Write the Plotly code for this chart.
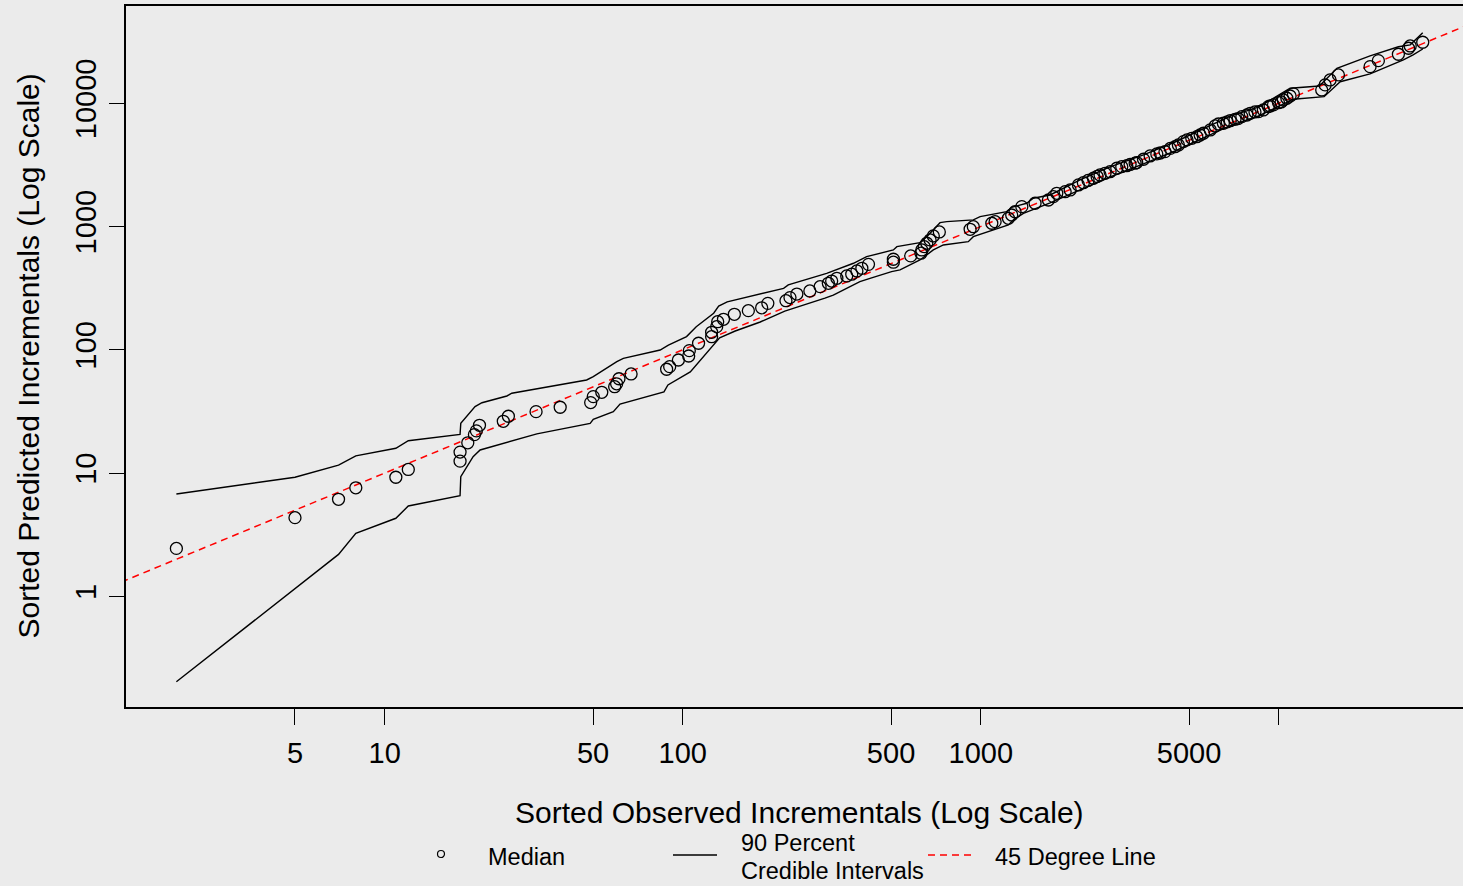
import plotly.graph_objects as go

# ---------------- data ----------------
obs_sorted = [2, 5, 7, 8, 10.9, 12, 17.9, 17.9, 19, 20, 20.3, 20.8, 25, 26, 32.2, 38.8,
              49.1, 50.1, 53.5, 59.1, 60, 61.1, 67.1, 88.3, 90.4, 96.7, 104.7, 105.2,
              113, 125, 125, 130, 131, 137, 149, 166, 184, 193, 222, 229, 241.5, 267,
              289, 308, 316, 329, 355, 369, 384, 399, 420, 509, 509, 582, 630, 634, 646,
              659, 676, 693, 726, 921, 944, 1089, 1117, 1238, 1270, 1303, 1373, 1521,
              1686, 1753,
              1799, 1919, 1995, 2127, 2209, 2291, 2388, 2456, 2513, 2612, 2716, 2860,
              2972, 3090, 3170, 3296, 3336, 3515, 3700, 3897, 4000, 4150, 4325, 4487,
              4603, 4786, 4920, 5105, 5309, 5445, 5585, 5888, 6112, 6270, 6516, 6714,
              6871, 7129, 7300, 7516, 7816, 8017, 8318, 8551, 8872, 9226, 9350, 9594,
              9977, 10180, 10350, 10640, 10910, 11190,
              13930, 14300, 14860, 15850, 20240, 21580, 25190, 27240, 27600, 30400]
pred_median = [2.45, 4.35, 6.13, 7.6, 9.25, 10.7, 12.5, 14.8, 17.6, 20.5, 22, 24.4, 26.3,
               28.9, 31.5, 34.2, 37.3, 41.7, 45.2, 50.2, 53, 58.2, 63.7, 69.5, 73, 82.6,
               89, 98.4, 113, 127.7, 138.6, 154, 169, 176.7, 194, 207.6, 219, 238, 250,
               265, 283, 300, 325, 346, 361, 380, 397, 410, 436, 458, 493, 513, 542, 577,
               607, 645, 686, 731, 778, 838, 903, 949, 996, 1062, 1094, 1165, 1239, 1318,
               1448, 1543, 1640, 1745,
               1858, 1915, 1977, 2172, 2265, 2361, 2460, 2545, 2617, 2700, 2782, 2965,
               3055, 3112, 3184, 3258, 3300, 3508, 3733, 3876, 3945, 4045, 4295, 4436,
               4581, 4875, 5035, 5190, 5346, 5520, 5702, 6067, 6535, 6776, 6871, 7047,
               7211, 7396, 7500, 7778, 8017, 8279, 8490, 8531, 8810, 9376, 9490, 9683,
               10090, 10230, 10620, 10960, 11430, 11890,
               12800, 14060, 15420, 16950, 19780, 22130, 24930, 27880, 29100, 31180]

upper_x = [2, 5, 7, 8, 10.9, 12, 17.9, 18, 20.1, 21.2, 25.7, 26.7, 47.6, 50.1, 60.1, 63.2,
           84, 89.5, 103, 111, 127, 132, 141, 218, 226, 304, 374, 414, 509, 523, 625, 659,
           730, 769, 944, 995, 1222, 1270, 1426, 1500, 1709, 2153, 2716, 3515, 4487, 5585,
           6871, 8551, 10910, 13680, 15660, 20240, 21580, 25190, 27600, 30400]
upper_y = [6.77, 9.25, 11.6, 13.8, 15.9, 18.3, 20.6, 25.3, 34.6, 37.2, 42.2, 44.4, 56.9,
           60.5, 80, 85.3, 99.6, 109, 128, 154, 198, 226, 245, 315, 336, 417, 503, 569,
           645, 686, 739, 827, 1074, 1094, 1130, 1202, 1318, 1431, 1543, 1694, 1800, 2384,
           3041, 3802, 4842, 6166, 7852, 9290, 13210, 13780, 19190, 24200, 25400, 28700,
           29700, 37300]

lower_x = [2, 5, 7, 8, 10.9, 12, 17.9, 18, 19.8, 20.9, 26, 32.4, 48.9, 50.1, 58.5, 61.6,
           86.5, 89.2, 106, 126, 133, 150, 182, 220, 267, 300, 320, 393, 425, 502, 536,
           625, 693, 749, 908, 944, 1238, 1285, 1390, 1709, 2153, 2716, 3515, 4487, 5585,
           6871, 8551, 11190, 14190, 16070, 20240, 26180, 28220, 30400]
lower_y = [0.203, 1.16, 2.19, 3.25, 4.30, 5.41, 6.56, 9.35, 13.6, 15.4, 18.0, 20.8, 25.3,
           27.3, 31.5, 36.3, 45.5, 51.8, 66.1, 109, 125, 142, 168, 206, 238, 262, 278, 357,
           380, 430, 444, 535, 645, 708, 753, 826, 1028, 1130, 1279, 1552, 1977, 2518,
           3214, 4093, 5224, 6577, 7870, 10760, 11290, 14930, 17260, 22400, 24600, 27500]

assert len(obs_sorted) == len(pred_median)
assert len(upper_x) == len(upper_y) and len(lower_x) == len(lower_y)

ref_line = [0.1, 100000]          # 45 degree line y = x

x_tick_vals = [5, 10, 50, 100, 500, 1000, 5000, 10000]
x_tick_text = ["5", "10", "50", "100", "500", "1000", "5000", ""]
y_tick_vals = [1, 10, 100, 1000, 10000]
y_tick_text = ["1", "10", "100", "1000", "10000"]

# ---------------- styling ----------------
BG = "#EBEBEB"
FONT = "Liberation Sans, Arial, Helvetica, sans-serif"
W, H = 1463, 886
ML, MR, MT, MB = 126, 0, 6, 179
PW, PH = W - ML - MR, H - MT - MB


def px_x(px):
    return (px - ML) / PW


def px_y(py):
    return (H - MB - py) / PH


fig = go.Figure()

fig.add_trace(go.Scatter(x=ref_line, y=ref_line, mode="lines",
                         line=dict(color="#FF0000", width=1.5, dash="7px,5px"),
                         hoverinfo="skip", showlegend=False))
fig.add_trace(go.Scatter(x=upper_x, y=upper_y, mode="lines",
                         line=dict(color="black", width=1.4), showlegend=False))
fig.add_trace(go.Scatter(x=lower_x, y=lower_y, mode="lines",
                         line=dict(color="black", width=1.4), showlegend=False))
fig.add_trace(go.Scatter(x=obs_sorted, y=pred_median, mode="markers",
                         marker=dict(symbol="circle-open", size=12, color="black",
                                     line=dict(width=1.3, color="black")),
                         showlegend=False))

fig.update_xaxes(type="log", range=[0.132, 4.618], tickvals=x_tick_vals,
                 ticktext=x_tick_text, ticks="outside", ticklen=16, tickwidth=1,
                 tickcolor="black", showline=True, linecolor="black", linewidth=1.5,
                 mirror=True, showgrid=False, zeroline=False,
                 tickfont=dict(size=29, color="black", family=FONT),
                 ticklabelstandoff=3)
fig.update_yaxes(type="log", range=[-0.897, 4.788], tickvals=y_tick_vals,
                 ticktext=y_tick_text, ticks="outside", ticklen=15, tickwidth=1,
                 tickcolor="black", showline=True, linecolor="black", linewidth=1.5,
                 mirror=False, showgrid=False, zeroline=False, tickangle=-90,
                 tickfont=dict(size=29, color="black", family=FONT),
                 ticklabelstandoff=2)

annotations = [
    dict(text="Sorted Observed Incrementals (Log Scale)", x=px_x(799.5), y=px_y(812),
         xanchor="center", yanchor="middle", font=dict(size=30)),
    dict(text="Sorted Predicted Incrementals (Log Scale)", x=px_x(28), y=px_y(356.5),
         xanchor="center", yanchor="middle", textangle=-90, font=dict(size=30)),
    dict(text="Median", x=px_x(486), y=px_y(857), xanchor="left", yanchor="middle",
         font=dict(size=23.5)),
    dict(text="90 Percent", x=px_x(739), y=px_y(843), xanchor="left", yanchor="middle",
         font=dict(size=23.5)),
    dict(text="Credible Intervals", x=px_x(739), y=px_y(871), xanchor="left",
         yanchor="middle", font=dict(size=23.5)),
    dict(text="45 Degree Line", x=px_x(993), y=px_y(857), xanchor="left",
         yanchor="middle", font=dict(size=23.5)),
]
for a in annotations:
    a.update(xref="paper", yref="paper", showarrow=False)
    a["font"].update(color="black", family=FONT)

shapes = [
    dict(type="circle", x0=px_x(437.5), x1=px_x(444.5), y0=px_y(857.5), y1=px_y(850.5),
         line=dict(color="black", width=1.2)),
    dict(type="line", x0=px_x(673), x1=px_x(717), y0=px_y(855), y1=px_y(855),
         line=dict(color="black", width=1.4)),
    dict(type="line", x0=px_x(928), x1=px_x(972), y0=px_y(855), y1=px_y(855),
         line=dict(color="#FF0000", width=1.5, dash="7px,5px")),
]
for s in shapes:
    s.update(xref="paper", yref="paper")

fig.update_layout(width=W, height=H, autosize=False,
                  margin=dict(l=ML, r=MR, t=MT, b=MB, pad=0),
                  paper_bgcolor=BG, plot_bgcolor=BG,
                  font=dict(family=FONT, color="black"),
                  annotations=annotations, shapes=shapes, showlegend=False)

fig.write_html("out.html")
